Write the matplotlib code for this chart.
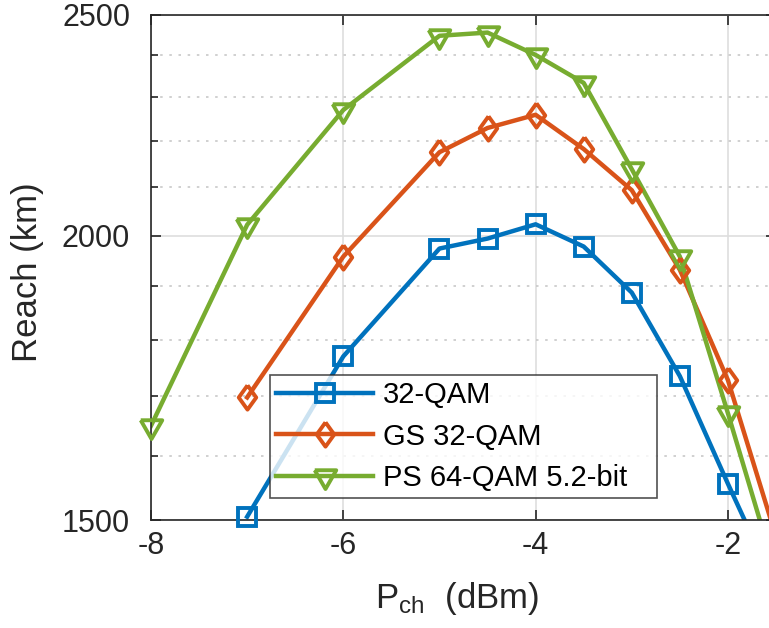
import numpy as np
import matplotlib.pyplot as plt
from matplotlib.ticker import FixedLocator, NullFormatter

plt.rcParams['font.family'] = ['Liberation Sans', 'DejaVu Sans']
plt.rcParams['axes.unicode_minus'] = False

# --- data ---
p_ch = np.array([-8, -7, -6, -5, -4.5, -4, -3.5, -3, -2.5, -2, -1.5])
reach_32qam = np.array([np.nan, 1505, 1770, 1974, 1994, 2023, 1978, 1888, 1735, 1556, 1400])
reach_gs32 = np.array([np.nan, 1698, 1958, 2176, 2230, 2260, 2183, 2094, 1932, 1728, 1475])
reach_ps64 = np.array([1650, 2022, 2271, 2448, 2456, 2401, 2334, 2139, 1958, 1671, 1420])

labels = ['32-QAM', 'GS 32-QAM', 'PS 64-QAM 5.2-bit']
colors = ['#0072BD', '#D95319', '#77AC30']

# MATLAB-like marker shapes (taller diamond, wide down-triangle centred on centroid)
diamond = [(0, 1), (0.72, 0), (0, -1), (-0.72, 0), (0, 1)]
tri_down = [(-1, 0.58), (1, 0.58), (0, -1.16), (-1, 0.58)]
markers = ['s', diamond, tri_down]
msizes = [13, 17.5, 18]

xmin, xmax = -8, -1.5
ymin, ymax = 1500, 2500

fig = plt.figure(figsize=(7.69, 6.28), dpi=100)
ax = fig.add_axes([151 / 769, 108 / 628, 625 / 769, 505 / 628])

for ys, lab, c, m, ms in zip([reach_32qam, reach_gs32, reach_ps64],
                             labels, colors, markers, msizes):
    # line is clipped to the axes, markers are not (like MATLAB)
    ax.plot(p_ch, ys, color=c, linewidth=3.2, solid_joinstyle='round')
    inside = (ys >= ymin) & (p_ch < xmax)
    ax.plot(p_ch[inside], ys[inside], linestyle='none', marker=m, markersize=ms,
            markerfacecolor='none', markeredgecolor=c, markeredgewidth=2.8,
            clip_on=False, zorder=3)
    # proxy for legend
    ax.plot([], [], color=c, linewidth=3.2, marker=m, markersize=ms,
            markerfacecolor='none', markeredgewidth=2.8, label=lab)

ax.set_yscale('log')
ax.set_xlim(xmin, xmax)
ax.set_ylim(ymin, ymax)
ax.set_xticks([-8, -6, -4, -2])
ax.yaxis.set_major_locator(FixedLocator([1500, 2000, 2500]))
ax.yaxis.set_minor_locator(FixedLocator([1600, 1700, 1800, 1900, 2100, 2200, 2300, 2400]))
ax.yaxis.set_major_formatter(plt.FuncFormatter(lambda v, p: f'{v:.0f}'))
ax.yaxis.set_minor_formatter(NullFormatter())

ax.grid(True, which='major', color='#dedede', linewidth=1.2)
ax.grid(True, which='minor', axis='y', color='#c8c8c8', linestyle=(0, (1.5, 4)), linewidth=1.2)
ax.set_axisbelow(True)

ax.tick_params(which='both', direction='in', top=True, right=True, colors='#262626',
               labelsize=22, width=1.2)
ax.tick_params(which='major', length=7)
ax.tick_params(which='minor', length=5)
ax.tick_params(axis='x', pad=8)
ax.tick_params(axis='y', pad=15)
for s in ax.spines.values():
    s.set_color('#262626')
    s.set_linewidth(1.2)

ax.set_xlabel(r'P$\mathregular{_{ch}}$  (dBm)', fontsize=25, color='#262626')
ax.set_ylabel('Reach (km)', fontsize=25, color='#262626')
ax.xaxis.set_label_coords(0.489, -0.118)
ax.yaxis.set_label_coords(-0.172, 0.49)

# legend box: wider than its content, like the MATLAB one
leg_w = 387 / 625
leg_h = 123 / 505
leg = ax.legend(loc='upper left', bbox_to_anchor=(0.1904, 0.287 - leg_h, leg_w, leg_h),
                mode='expand', fontsize=21, handlelength=3.3, frameon=True, fancybox=False,
                edgecolor='#262626', borderpad=0.22, labelspacing=0.45,
                handletextpad=0.35, borderaxespad=0)
leg.get_frame().set_linewidth(1.2)
leg.set_zorder(5)

fig.savefig('out.png', dpi=100)
